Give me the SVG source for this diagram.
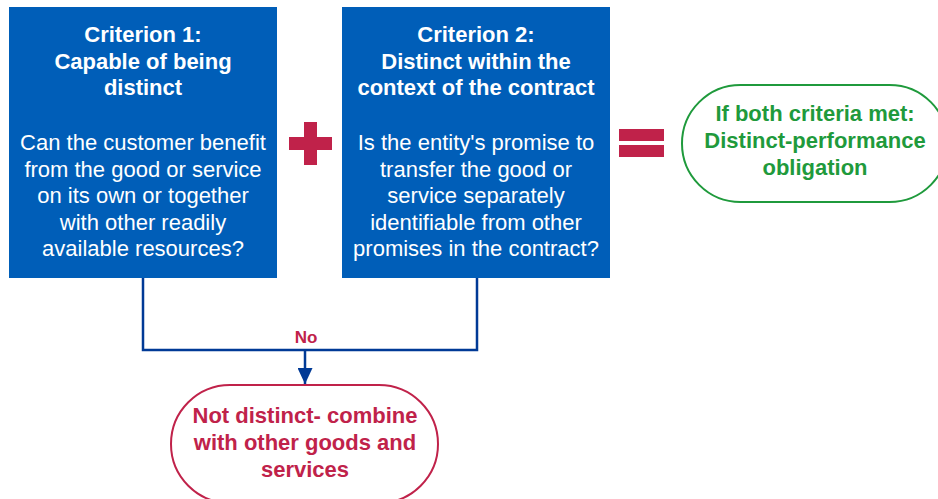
<svg xmlns="http://www.w3.org/2000/svg" width="938" height="499" viewBox="0 0 938 499">
<defs>
<style>
.box{fill:#005EB8;}
.t{font-family:"Liberation Sans",Arial,sans-serif;font-size:22px;text-anchor:middle;}
.w{fill:#FFFFFF;}
.b{font-weight:bold;}
.g{fill:#1F9A3C;}
.r{fill:#C0224A;}
.conn{fill:none;stroke:#003A96;stroke-width:2.5;}
</style>
<marker id="ah" viewBox="0 0 16 15" refX="16" refY="7.5" markerWidth="16" markerHeight="15" markerUnits="userSpaceOnUse" orient="auto">
<path d="M0,0 L16,7.5 L0,15 z" fill="#003A96"/>
</marker>
</defs>
<rect width="938" height="499" fill="#FFFFFF"/>
<g id="criterion1">
<rect class="box" x="9" y="7" width="268" height="271"/>
<text class="t w b" x="143" y="42">Criterion 1:</text>
<text class="t w b" x="143" y="69">Capable of being</text>
<text class="t w b" x="143" y="95">distinct</text>
<text class="t w" x="143" y="150">Can the customer benefit</text>
<text class="t w" x="143" y="177">from the good or service</text>
<text class="t w" x="143" y="203">on its own or together</text>
<text class="t w" x="143" y="230">with other readily</text>
<text class="t w" x="143" y="256">available resources?</text>
</g>
<g id="plus">
<rect x="289" y="137" width="43" height="13" fill="#C0224A"/>
<rect x="304" y="122" width="13" height="43" fill="#C0224A"/>
</g>
<g id="criterion2">
<rect class="box" x="342" y="7" width="268" height="271"/>
<text class="t w b" x="476" y="42">Criterion 2:</text>
<text class="t w b" x="476" y="69">Distinct within the</text>
<text class="t w b" x="476" y="95">context of the contract</text>
<text class="t w" x="476" y="150">Is the entity's promise to</text>
<text class="t w" x="476" y="177">transfer the good or</text>
<text class="t w" x="476" y="203">service separately</text>
<text class="t w" x="476" y="230">identifiable from other</text>
<text class="t w" x="476" y="256">promises in the contract?</text>
</g>
<g id="equals">
<rect x="619" y="129" width="45" height="12" fill="#C0224A"/>
<rect x="619" y="145" width="45" height="12" fill="#C0224A"/>
</g>
<g id="distinct">
<rect x="682" y="85" width="266" height="117" rx="58.5" ry="58.5" fill="#FFFFFF" stroke="#1F9A3C" stroke-width="2"/>
<text class="t g b" x="815" y="121">If both criteria met:</text>
<text class="t g b" x="815" y="148">Distinct-performance</text>
<text class="t g b" x="815" y="175">obligation</text>
</g>
<g id="connectors">
<polyline class="conn" points="143,278 143,350 477,350 477,278"/>
<line class="conn" x1="305" y1="350" x2="305" y2="384" marker-end="url(#ah)"/>
<text class="t r b" x="306" y="343" style="font-size:17px">No</text>
</g>
<g id="notdistinct">
<rect x="171" y="385" width="267" height="118" rx="59" ry="59" fill="#FFFFFF" stroke="#C0224A" stroke-width="2"/>
<text class="t r b" x="305" y="423">Not distinct- combine</text>
<text class="t r b" x="305" y="450">with other goods and</text>
<text class="t r b" x="305" y="477">services</text>
</g>
</svg>
